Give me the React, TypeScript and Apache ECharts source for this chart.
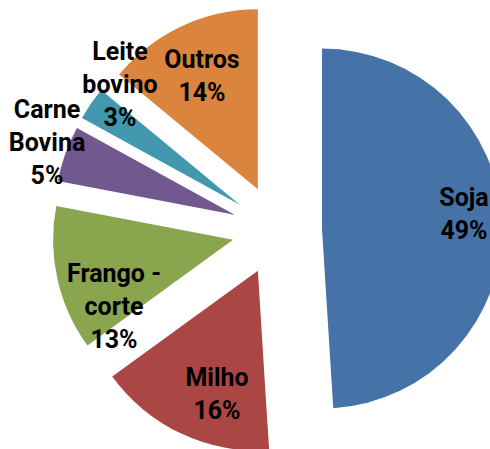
import React, { useEffect, useRef } from "react";
import * as echarts from "echarts";

const CATEGORIES = ["Soja", "Milho", "Frango -\ncorte", "Carne\nBovina", "Leite\nbovino", "Outros"];
const SHARES = [49, 16, 13, 5, 3, 14];
const COLORS = ["#4572A7", "#AA4643", "#89A54E", "#71588F", "#4198AF", "#DB843D"];
// label centres (layout only)
const LABEL_POS = [
  [464, 214],
  [217, 394],
  [114, 306],
  [47, 142],
  [120, 84],
  [202, 76],
];

export default function App() {
  const ref = useRef<HTMLDivElement>(null);
  useEffect(() => {
    document.body.style.margin = "0";
    const chart = echarts.init(ref.current!, null, { renderer: "svg" });
    chart.setOption({
      animation: false,
      backgroundColor: "#ffffff",
      series: [
        {
          type: "pie",
          center: [277, 230],
          radius: 180,
          startAngle: 90,
          clockwise: true,
          selectedMode: "multiple",
          selectedOffset: 45,
          avoidLabelOverlap: false,
          emphasis: { disabled: true },
          label: { show: false },
          labelLine: { show: false },
          data: CATEGORIES.map((name, i) => ({
            name,
            value: SHARES[i],
            selected: true,
            itemStyle: { color: COLORS[i] },
          })),
        },
      ],
      graphic: CATEGORIES.map((name, i) => ({
        type: "text",
        x: LABEL_POS[i][0],
        y: LABEL_POS[i][1],
        z: 100,
        style: {
          text: `${name}\n${SHARES[i]}%`,
          fill: "#000",
          fontFamily: "Roboto",
          fontWeight: "bold",
          fontSize: 25,
          lineHeight: 33,
          align: "center",
          verticalAlign: "middle",
        },
      })),
    });
    return () => chart.dispose();
  }, []);
  return <div ref={ref} style={{ width: 490, height: 449 }} />;
}
